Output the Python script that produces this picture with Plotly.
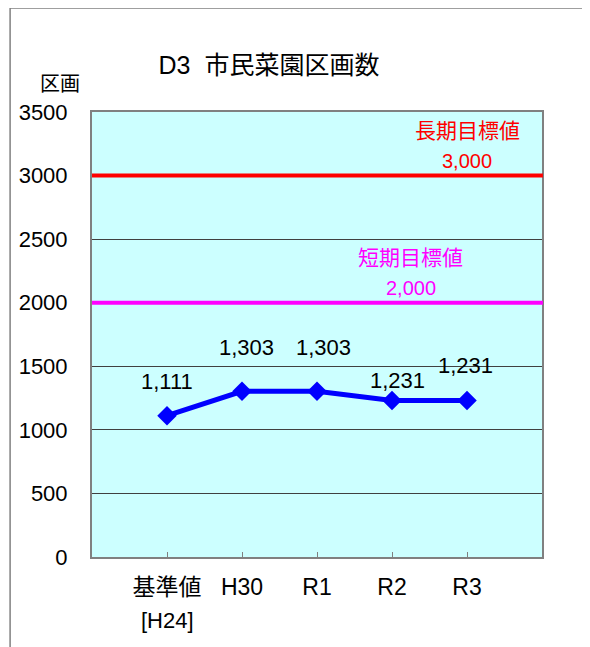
import plotly.graph_objects as go

# ---- data ----
categories = ["基準値", "H30", "R1", "R2", "R3"]
category_sub = ["[H24]", "", "", "", ""]
values = [1111, 1303, 1303, 1231, 1231]
label_yshift = [34, 44, 44, 20, 35]
label_xshift = [0, 4, 6, 5, -2]

target_names = ["長期目標値", "短期目標値"]
target_values = [3000, 2000]
target_colors = ["#FF0000", "#FF00FF"]
target_label_x = [4.0, 3.25]

y_ticks = [0, 500, 1000, 1500, 2000, 2500, 3000, 3500]

title_text = "D3  市民菜園区画数"
y_title = "区画"

FONT = "Liberation Sans, Arial, Noto Sans CJK JP, sans-serif"

W, H = 582, 639  # page body has an 8px margin

fig = go.Figure()

fig.add_trace(go.Scatter(
    x=list(range(len(categories))), y=values,
    mode="lines+markers",
    line=dict(color="#0000FF", width=5),
    marker=dict(symbol="diamond", size=15, color="#0000FF"),
    hoverinfo="skip", showlegend=False,
))

shapes = []
annotations = []

# target lines
for name, val, col, lx in zip(target_names, target_values, target_colors, target_label_x):
    shapes.append(dict(type="line", xref="paper", yref="y", x0=0, x1=1.002, y0=val, y1=val,
                       line=dict(color=col, width=4), layer="above"))
    annotations.append(dict(x=lx, y=val, xref="x", yref="y", text=name, showarrow=False,
                            xanchor="center", yanchor="middle",
                            yshift=45, font=dict(size=21, color=col, family=FONT)))
    annotations.append(dict(x=lx, y=val, xref="x", yref="y", text=f"{val:,}", showarrow=False,
                            xanchor="center", yanchor="middle",
                            yshift=15, font=dict(size=20, color=col, family=FONT)))

# data labels
for i, v in enumerate(values):
    annotations.append(dict(x=i, y=v, xref="x", yref="y", text=f"{v:,}", showarrow=False,
                            xanchor="center", yanchor="middle",
                            yshift=label_yshift[i], xshift=label_xshift[i],
                            font=dict(size=22, color="#000000", family=FONT)))

# sub labels under categories
for i, s in enumerate(category_sub):
    if s:
        annotations.append(dict(x=i, y=-0.142, xref="x", yref="paper", text=s, showarrow=False,
                                xanchor="center", yanchor="middle",
                                font=dict(size=22, color="#000000", family=FONT)))

# y-axis title
annotations.append(dict(x=-0.071, y=1.063, xref="paper", yref="paper", text=y_title,
                        showarrow=False, xanchor="center", yanchor="middle",
                        font=dict(size=20, color="#000000", family=FONT)))

# outer frame
shapes.append(dict(type="rect", xref="paper", yref="paper", x0=-0.182, x1=1.3, y0=-0.3, y1=1.2337,
                   line=dict(color="#808080", width=1.5), layer="below"))

fig.update_layout(
    width=W, height=H,
    margin=dict(l=84, r=48, t=104, b=90),
    paper_bgcolor="#FFFFFF",
    plot_bgcolor="#CCFFFF",
    title=dict(text=title_text, x=261 / W, xanchor="center", y=1 - 57 / H, yanchor="middle",
               font=dict(size=25, color="#000000", family=FONT)),
    shapes=shapes,
    annotations=annotations,
    showlegend=False,
)

fig.update_xaxes(
    range=[-1, 5],
    tickmode="array", tickvals=list(range(len(categories))), ticktext=categories,
    ticks="inside", ticklen=5, tickcolor="#808080",
    showgrid=False, zeroline=False,
    showline=True, linecolor="#808080", linewidth=2, mirror=True,
    tickfont=dict(size=23, color="#000000", family=FONT),
    ticklabelstandoff=8,
)
fig.update_yaxes(
    range=[0, 3500],
    tickmode="array", tickvals=y_ticks, ticktext=[str(t) for t in y_ticks],
    showgrid=True, gridcolor="#404040", gridwidth=1,
    zeroline=False,
    showline=True, linecolor="#808080", linewidth=2, mirror=True,
    tickfont=dict(size=22, color="#000000", family=FONT),
    ticklabelstandoff=18,
)

fig.write_html("out.html")
